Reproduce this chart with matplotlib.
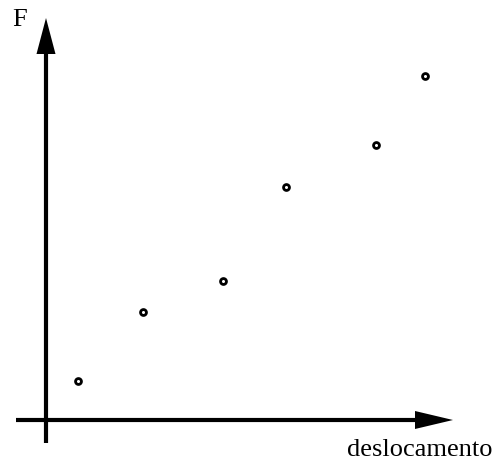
import matplotlib
matplotlib.use("Agg")
import matplotlib.pyplot as plt
import numpy as np

# data (arbitrary units)
deslocamento = [3.2, 9.7, 17.7, 24.0, 33.0, 37.9]
forca = [3.9, 10.8, 13.9, 23.3, 27.5, 34.4]

fig = plt.figure(figsize=(4.94, 4.62), dpi=100)
ax = fig.add_axes([0, 0, 1, 1])
ax.set_xlim(-4.6, 44.8)
ax.set_ylim(-4.2, 42.0)
ax.axis("off")

# eixos com setas
ax.plot([-3.0, 37.5], [0, 0], color="black", lw=3, solid_capstyle="butt")
ax.fill([36.9, 40.7, 36.9], [0.9, 0, -0.9], color="black", lw=0)
ax.plot([0, 0], [-2.3, 37.0], color="black", lw=3, solid_capstyle="butt")
ax.fill([-0.95, 0, 0.95], [36.6, 40.2, 36.6], color="black", lw=0)

ax.scatter(deslocamento, forca, s=18, facecolors="white", edgecolors="black", linewidths=2, zorder=3)

ax.text(-3.4, 41.1, "F", fontsize=19, family="Liberation Serif", ha="left", va="top")
ax.text(44.6, -3.6, "deslocamento", fontsize=19, family="Liberation Serif", ha="right", va="baseline")

fig.savefig("out.png", dpi=100)
